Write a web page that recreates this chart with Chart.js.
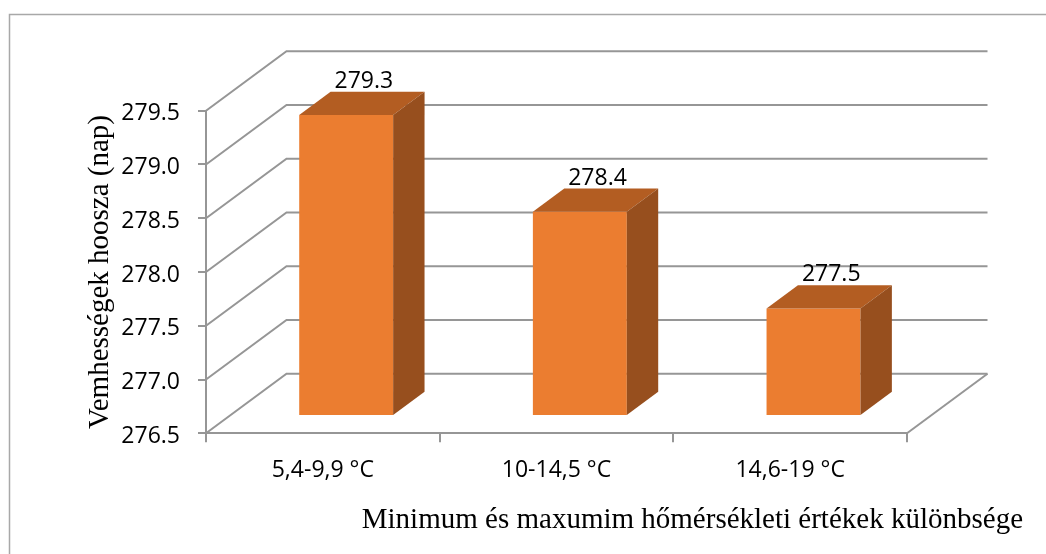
<!DOCTYPE html>
<html>
<head>
<meta charset="utf-8">
<script src="https://cdn.jsdelivr.net/npm/chart.js@4.4.1/dist/chart.umd.min.js"></script>
<style>
  html, body { margin: 0; padding: 0; background: #ffffff; }
  #wrap { position: relative; width: 1046px; height: 554px; }
</style>
</head>
<body>
<div id="wrap"><canvas id="chart" width="1046" height="554"></canvas></div>
<script>
// ---- data ----
const categories = ['5,4-9,9 °C', '10-14,5 °C', '14,6-19 °C'];
const gestationDays = [279.3, 278.4, 277.5];
const yTicks = [276.5, 277.0, 277.5, 278.0, 278.5, 279.0, 279.5];
const yTitle = 'Vemhességek hoosza (nap)';
const xTitle = 'Minimum és maxumim hőmérsékleti értékek különbsége';

// ---- look ----
const W = 1046, H = 554;
const PLOT = { left: 206, right: 907, top: 110.7, bottom: 433.3 };
const DEPTH = { dx: 80.5, dy: -59.5 };          // oblique depth of the floor
const BAR_Z = { front: 0.29, back: 0.68 };       // bar slab position inside the depth
const GRID = '#969696';
const FRONT = '#eb7d30', TOP = '#b35d22', SIDE = '#974f1e';
const SANS = '"Open Sans", "Noto Sans", sans-serif';
const SERIF = '"Liberation Serif", "Times New Roman", serif';

const fx = DEPTH.dx * BAR_Z.front, fy = DEPTH.dy * BAR_Z.front;
const bx = DEPTH.dx * BAR_Z.back,  by = DEPTH.dy * BAR_Z.back;

// walls, floor and the oblique grid
const wallPlugin = {
  id: 'wall3d',
  beforeDraw(chart) {
    const ctx = chart.ctx;
    ctx.save();
    ctx.fillStyle = '#ffffff';
    ctx.fillRect(0, 0, W, H);
    ctx.strokeStyle = '#a8a8a8';
    ctx.lineWidth = 1.5;
    ctx.strokeRect(9.5, 14.5, W + 20, H + 20);
    ctx.restore();
  },
  beforeDatasetsDraw(chart) {
    const { ctx, chartArea: a, scales: { y } } = chart;
    ctx.save();
    ctx.strokeStyle = GRID;
    ctx.lineWidth = 2;
    ctx.lineJoin = 'miter';
    y.ticks.forEach(t => {
      const py = y.getPixelForValue(t.value);
      ctx.beginPath();
      ctx.moveTo(a.left, py);
      ctx.lineTo(a.left + DEPTH.dx, py + DEPTH.dy);
      ctx.lineTo(a.right + DEPTH.dx, py + DEPTH.dy);
      ctx.stroke();
    });
    ctx.beginPath();
    ctx.moveTo(a.right, a.bottom);
    ctx.lineTo(a.right + DEPTH.dx, a.bottom + DEPTH.dy);
    ctx.stroke();
    ctx.restore();
  },
  // front faces are drawn by the bar controller, pushed into the depth
  beforeDatasetDraw(chart) {
    chart.ctx.save();
    chart.ctx.translate(fx, fy);
  },
  afterDatasetDraw(chart) {
    chart.ctx.restore();
  },
  afterDatasetsDraw(chart) {
    const ctx = chart.ctx;
    const meta = chart.getDatasetMeta(0);
    ctx.save();
    meta.data.forEach((bar, i) => {
      const p = bar.getProps(['x', 'y', 'base', 'width'], true);
      const xl = p.x - p.width / 2, xr = p.x + p.width / 2;
      const yt = p.y, yb = p.base;
      // top face
      ctx.fillStyle = TOP;
      ctx.beginPath();
      ctx.moveTo(xl + fx, yt + fy);
      ctx.lineTo(xr + fx, yt + fy);
      ctx.lineTo(xr + bx, yt + by);
      ctx.lineTo(xl + bx, yt + by);
      ctx.closePath();
      ctx.fill();
      // side face
      ctx.fillStyle = SIDE;
      ctx.beginPath();
      ctx.moveTo(xr + fx, yt + fy);
      ctx.lineTo(xr + bx, yt + by);
      ctx.lineTo(xr + bx, yb + by);
      ctx.lineTo(xr + fx, yb + fy);
      ctx.closePath();
      ctx.fill();
      // value label above the slab
      ctx.fillStyle = '#000000';
      ctx.font = '23px ' + SANS;
      ctx.textAlign = 'center';
      ctx.textBaseline = 'alphabetic';
      const v = chart.data.datasets[0].data[i];
      ctx.fillText(v.toFixed(1), p.x + (fx + bx) / 2 + 2, yt + by - 4);
    });
    ctx.restore();
  },
  afterDraw(chart) {
    const ctx = chart.ctx;
    ctx.save();
    ctx.fillStyle = '#000000';
    ctx.font = '29px ' + SERIF;
    ctx.textAlign = 'right';
    ctx.textBaseline = 'alphabetic';
    ctx.fillText(xTitle, 1023, 528);
    ctx.restore();
  }
};

new Chart(document.getElementById('chart'), {
  type: 'bar',
  data: {
    labels: categories,
    datasets: [{
      data: gestationDays,
      base: yTicks[0],
      backgroundColor: FRONT,
      borderWidth: 0,
      barPercentage: 0.402,
      categoryPercentage: 1.0,
      clip: false
    }]
  },
  options: {
    responsive: false,
    animation: false,
    devicePixelRatio: 1,
    layout: { padding: { left: 82.6, right: W - PLOT.right, top: PLOT.top, bottom: 0 } },
    plugins: { legend: { display: false }, tooltip: { enabled: false }, title: { display: false } },
    scales: {
      x: {
        afterFit: s => { s.height = H - PLOT.bottom; },
        ticks: { font: { family: SANS, size: 23 }, color: '#000000', padding: 14, maxRotation: 0 },
        grid: { drawOnChartArea: false, drawTicks: true, tickLength: 9, color: GRID, lineWidth: 2, offset: true },
        border: { display: true, color: GRID, width: 2 }
      },
      y: {
        min: yTicks[0],
        max: yTicks[yTicks.length - 1],
        afterBuildTicks: s => { s.ticks = yTicks.map(v => ({ value: v })); },
        afterFit: s => { s.width = PLOT.left - 82.6; },
        ticks: { font: { family: SANS, size: 23 }, color: '#000000', padding: 18, labelOffset: 3, callback: v => Number(v).toFixed(1) },
        grid: { drawOnChartArea: false, drawTicks: true, tickLength: 8, color: GRID, lineWidth: 2 },
        border: { display: true, color: GRID, width: 2 },
        title: { display: true, text: yTitle, color: '#000000', font: { family: SERIF, size: 29 }, padding: 0 }
      }
    }
  },
  plugins: [wallPlugin]
});
</script>
</body>
</html>
